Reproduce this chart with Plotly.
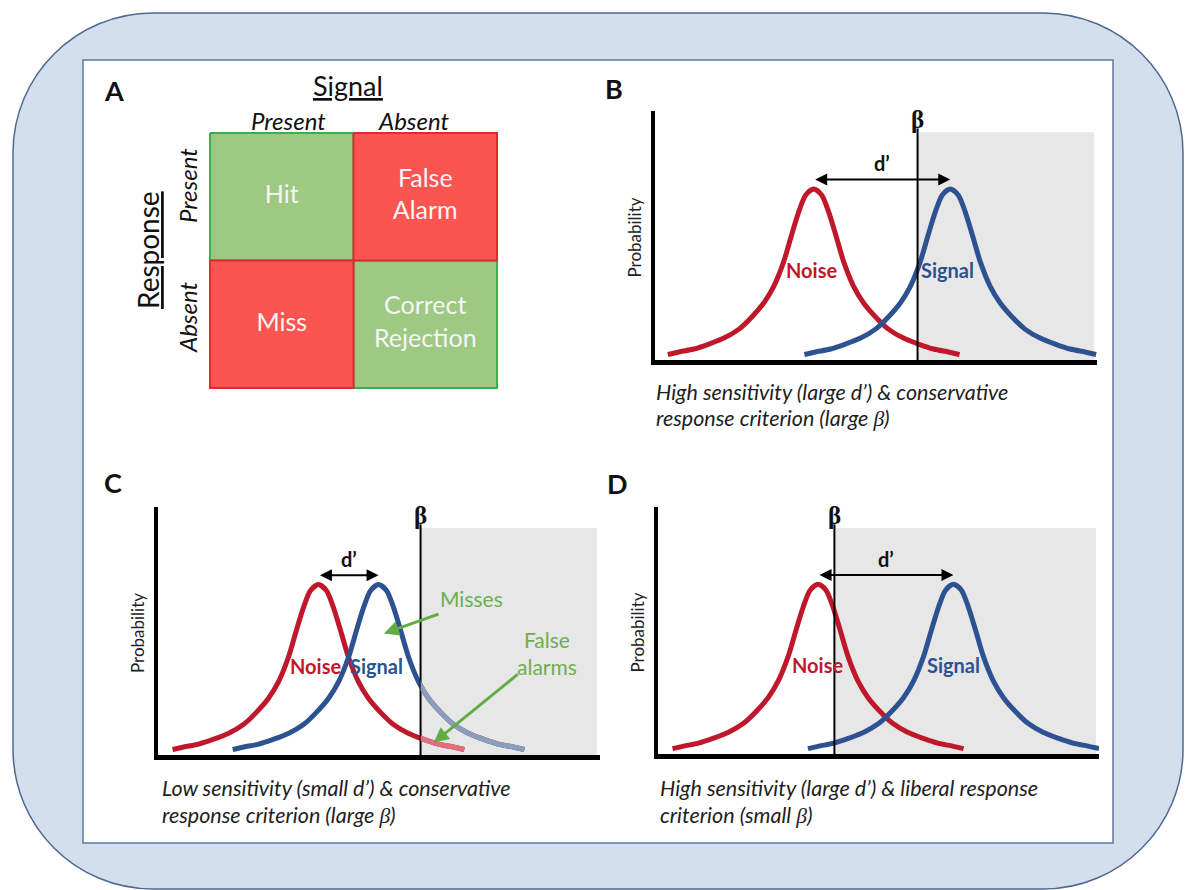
import plotly.graph_objects as go

W, H = 1190, 890

# ---------------- data ----------------
# Panel A : outcome matrix (rows = response, columns = signal)
signal_states = ["Present", "Absent"]
response_states = ["Present", "Absent"]
cell_labels = [["Hit", "False<br>Alarm"],
               ["Miss", "Correct<br>Rejection"]]
cell_correct = [[True, False],
                [False, True]]

# distribution profile: offset from the mean (x units) and height (axis fraction)
profile_offset = [-3.30, -3.05, -2.71, -2.37, -2.03, -1.69, -1.40, -1.13, -0.90, -0.68,
                  -0.50, -0.34, -0.18, 0.00, 0.18, 0.34, 0.50, 0.68, 0.90, 1.13,
                  1.40, 1.69, 2.03, 2.37, 2.71, 3.05, 3.30]
profile_height = [0.022, 0.032, 0.044, 0.064, 0.088, 0.124, 0.173, 0.229, 0.297, 0.394,
                  0.502, 0.594, 0.663, 0.687, 0.663, 0.594, 0.502, 0.394, 0.297, 0.229,
                  0.173, 0.124, 0.088, 0.064, 0.044, 0.032, 0.022]

panels = ["B", "C", "D"]
noise_mean = [3.59, 3.63, 3.63]
signal_mean = [6.68, 4.99, 6.70]
criterion = [5.94, 5.94, 4.00]
noise_label_x = [3.55, 3.57, 3.61]
signal_label_x = [6.61, 4.95, 6.69]
caption_line1 = ["High sensitivity (large d’) & conservative",
                 "Low sensitivity (small d’) & conservative",
                 "High sensitivity (large d’) & liberal response"]
caption_line2 = ["response criterion (large β)",
                 "response criterion (large β)",
                 "criterion (small β)"]

# panel C call-outs (x units, axis fraction)
misses_text_xy = [7.10, 0.63]
misses_arrow = [5.11, 0.49, 6.38, 0.57]        # tip x, tip y, tail x, tail y
fa_text_xy = [8.80, 0.41]
fa_arrow = [6.24, 0.05, 8.17, 0.33]

# ---------------- layout geometry (pixels) ----------------
def fx(p):
    return p / W

def fy(p):
    return 1 - p / H

# left, right, bottom, top of each distribution plot area
panel_box = {"B": (655, 1097, 360, 111),
             "C": (158, 600, 755, 507),
             "D": (658, 1099, 754, 507)}
letter_pos = {"A": (114, 91), "B": (614, 89), "C": (113, 482), "D": (617, 483)}
caption_pos = {"B": (654, 392, 418), "C": (160, 788, 815), "D": (658, 788, 815)}

RED = "#C0182B"
BLUE = "#2D5291"
RED_FADE = "#E0707C"
BLUE_FADE = "#8C9CB9"
GREEN_TXT = "#6EAE50"
GREEN_ARR = "#62AC45"
FONT = "Lato"


def pann(px, py, text, size, color="#111", angle=0, xanchor="center"):
    return dict(x=fx(px), y=fy(py), xref="paper", yref="paper", text=text,
                xanchor=xanchor, yanchor="middle", textangle=angle, showarrow=False,
                font=dict(family=FONT, size=size, color=color))


fig = go.Figure()

# ---------- Panel A ----------
A_l, A_r, A_t, A_b = 210, 497, 133, 388
pad = 4
ux = (A_r - A_l) / 2
uy = (A_b - A_t) / 2
fig.update_layout(
    xaxis=dict(domain=[fx(A_l - pad), fx(A_r + pad)], range=[-0.5 - pad / ux, 1.5 + pad / ux],
               visible=False, anchor="y"),
    yaxis=dict(domain=[fy(A_b + pad), fy(A_t - pad)], range=[1.5 + pad / uy, -0.5 - pad / uy],
               visible=False, anchor="x"),
)
for want in (True, False):
    for r in range(2):
        for c in range(2):
            if cell_correct[r][c] != want:
                continue
            fill = "#9DC983" if want else "#FA5551"
            edge = "#33B24E" if want else "#E4282B"
            fig.add_trace(go.Scatter(
                x=[c - 0.5, c + 0.5, c + 0.5, c - 0.5, c - 0.5],
                y=[r - 0.5, r - 0.5, r + 0.5, r + 0.5, r - 0.5],
                mode="lines", fill="toself", fillcolor=fill,
                line=dict(color=edge, width=2), hoverinfo="skip", showlegend=False,
                xaxis="x", yaxis="y"))
fig.add_trace(go.Scatter(
    x=[c for r in range(2) for c in range(2)],
    y=[r for r in range(2) for c in range(2)],
    text=[cell_labels[r][c] for r in range(2) for c in range(2)],
    mode="text", textfont=dict(family=FONT, size=25, color="#F6F6F6"),
    hoverinfo="skip", showlegend=False, xaxis="x", yaxis="y"))

ann = []
ann.append(pann(348, 85, "<u>Signal</u>", 27))
for lab, px in zip(signal_states, [288, 413]):
    ann.append(pann(px, 120, f"<i>{lab}</i>", 24))
ann.append(pann(148, 250, "<u>Response</u>", 28, angle=-90))
for lab, py in zip(response_states, [186, 318]):
    ann.append(pann(187, py, f"<i>{lab}</i>", 24, angle=-90))

# ---------- Panels B, C, D ----------
for i, p in enumerate(panels):
    k = i + 2
    xa, ya = f"x{k}", f"y{k}"
    l, r, b, t = panel_box[p]
    fig.layout[f"xaxis{k}"] = dict(domain=[fx(l), fx(r)], range=[0, 10], showgrid=False,
                                   zeroline=False, showticklabels=False, ticks="",
                                   showline=True, linewidth=5, linecolor="black", anchor=ya)
    fig.layout[f"yaxis{k}"] = dict(domain=[fy(b), fy(t)], range=[0, 1], showgrid=False,
                                   zeroline=False, showticklabels=False, ticks="",
                                   showline=True, linewidth=4, linecolor="black", anchor=xa)
    cr = criterion[i]
    # response "present" region
    fig.add_trace(go.Scatter(x=[cr, 9.93, 9.93, cr, cr], y=[0, 0, 0.915, 0.915, 0],
                             mode="lines", fill="toself", fillcolor="#E7E7E7",
                             line=dict(width=0, color="#E7E7E7"), hoverinfo="skip",
                             showlegend=False, xaxis=xa, yaxis=ya))
    nx = [noise_mean[i] + o for o in profile_offset]
    sx = [signal_mean[i] + o for o in profile_offset]
    fig.add_trace(go.Scatter(x=nx, y=profile_height, mode="lines",
                             line=dict(color=RED, width=5, shape="spline", smoothing=0.8),
                             hoverinfo="skip", showlegend=False, xaxis=xa, yaxis=ya))
    fig.add_trace(go.Scatter(x=sx, y=profile_height, mode="lines",
                             line=dict(color=BLUE, width=5, shape="spline", smoothing=0.8),
                             hoverinfo="skip", showlegend=False, xaxis=xa, yaxis=ya))
    if p == "C":
        # faded tails beyond the criterion, clipped by an overlay subplot
        crpx = l + cr / 10 * (r - l)
        fig.layout["xaxis5"] = dict(domain=[fx(crpx), fx(r)], range=[cr, 10], visible=False,
                                    anchor="y5")
        fig.layout["yaxis5"] = dict(domain=[fy(b), fy(t)], range=[0, 1], visible=False,
                                    anchor="x5")
        fig.add_trace(go.Scatter(x=nx, y=profile_height, mode="lines",
                                 line=dict(color=RED_FADE, width=5, shape="spline", smoothing=0.8),
                                 hoverinfo="skip", showlegend=False, xaxis="x5", yaxis="y5"))
        fig.add_trace(go.Scatter(x=sx, y=profile_height, mode="lines",
                                 line=dict(color=BLUE_FADE, width=5, shape="spline", smoothing=0.8),
                                 hoverinfo="skip", showlegend=False, xaxis="x5", yaxis="y5"))
    # criterion line
    fig.add_trace(go.Scatter(x=[cr, cr], y=[0, 0.93], mode="lines",
                             line=dict(color="black", width=2), hoverinfo="skip",
                             showlegend=False, xaxis=xa, yaxis=ya))
    ann.append(dict(x=cr, y=0.965, xref=xa, yref=ya, text="<b>β</b>", showarrow=False,
                    xanchor="center", yanchor="middle",
                    font=dict(family="Liberation Serif", size=25, color="#111")))
    # d' arrow
    ann.append(dict(x=signal_mean[i], y=0.725, ax=noise_mean[i], ay=0.725, xref=xa, yref=ya,
                    axref=xa, ayref=ya, text="", showarrow=True, arrowside="end+start",
                    arrowhead=2, startarrowhead=2, arrowsize=1.2, startarrowsize=1.2,
                    arrowwidth=2, arrowcolor="black"))
    ann.append(dict(x=(signal_mean[i] + noise_mean[i]) / 2, y=0.79, xref=xa, yref=ya,
                    text="<b>d’</b>", showarrow=False, xanchor="center", yanchor="middle",
                    font=dict(family=FONT, size=20, color="#111")))
    ann.append(dict(x=noise_label_x[i], y=0.36, xref=xa, yref=ya, text="<b>Noise</b>",
                    showarrow=False, xanchor="center", yanchor="middle",
                    font=dict(family=FONT, size=20, color=RED)))
    ann.append(dict(x=signal_label_x[i], y=0.36, xref=xa, yref=ya, text="<b>Signal</b>",
                    showarrow=False, xanchor="center", yanchor="middle",
                    font=dict(family=FONT, size=20, color=BLUE)))
    ann.append(pann(l - 21, (b + t) / 2 + 2, "Probability", 17, color="#222", angle=-90))
    cx, cy1, cy2 = caption_pos[p]
    for txt, cy in ((caption_line1[i], cy1), (caption_line2[i], cy2)):
        txt = txt.replace("β", "<span style='font-family:Liberation Serif'>β</span>")
        ann.append(pann(cx, cy, f"<i>{txt}</i>", 21.5, color="#1E1E1E", xanchor="left"))

# panel C call-outs
ann.append(dict(x=misses_text_xy[0], y=misses_text_xy[1], xref="x3", yref="y3", text="Misses",
                showarrow=False, xanchor="center", yanchor="middle",
                font=dict(family=FONT, size=21, color=GREEN_TXT)))
ann.append(dict(x=fa_text_xy[0], y=fa_text_xy[1], xref="x3", yref="y3", text="False<br>alarms",
                showarrow=False, xanchor="center", yanchor="middle",
                font=dict(family=FONT, size=21, color=GREEN_TXT)))
for tipx, tipy, tx, ty in (misses_arrow, fa_arrow):
    ann.append(dict(x=tipx, y=tipy, ax=tx, ay=ty, xref="x3", yref="y3", axref="x3", ayref="y3",
                    text="", showarrow=True, arrowhead=2, arrowsize=1.0, arrowwidth=3,
                    arrowcolor=GREEN_ARR))

# panel letters
for lab, (px, py) in letter_pos.items():
    ann.append(pann(px, py, f"<b>{lab}</b>", 27))

# ---------- background frames ----------
def rrect(x0, y0, x1, y1, r):
    k = 0.5523 * r
    def P(x, y):
        return f"{fx(x):.5f},{fy(y):.5f}"
    return (f"M{P(x0 + r, y0)} L{P(x1 - r, y0)} "
            f"C{P(x1 - r + k, y0)} {P(x1, y0 + r - k)} {P(x1, y0 + r)} "
            f"L{P(x1, y1 - r)} "
            f"C{P(x1, y1 - r + k)} {P(x1 - r + k, y1)} {P(x1 - r, y1)} "
            f"L{P(x0 + r, y1)} "
            f"C{P(x0 + r - k, y1)} {P(x0, y1 - r + k)} {P(x0, y1 - r)} "
            f"L{P(x0, y0 + r)} "
            f"C{P(x0, y0 + r - k)} {P(x0 + r - k, y0)} {P(x0 + r, y0)} Z")

shapes = [
    dict(type="path", xref="paper", yref="paper", path=rrect(13, 13, 1183, 889, 140),
         fillcolor="#D4DFEE", line=dict(color="#4F6890", width=1.5), layer="below"),
    dict(type="rect", xref="paper", yref="paper", x0=fx(83), x1=fx(1113), y0=fy(843), y1=fy(60),
         fillcolor="white", line=dict(color="#5C78A4", width=1.5), layer="below"),
]

fig.update_layout(
    width=W, height=H, margin=dict(l=0, r=0, t=0, b=0),
    paper_bgcolor="white", plot_bgcolor="rgba(0,0,0,0)",
    showlegend=False, annotations=ann, shapes=shapes,
    font=dict(family=FONT),
)

fig.write_html("out.html", config={"displayModeBar": False},
               post_script="document.body.style.margin='0';")
